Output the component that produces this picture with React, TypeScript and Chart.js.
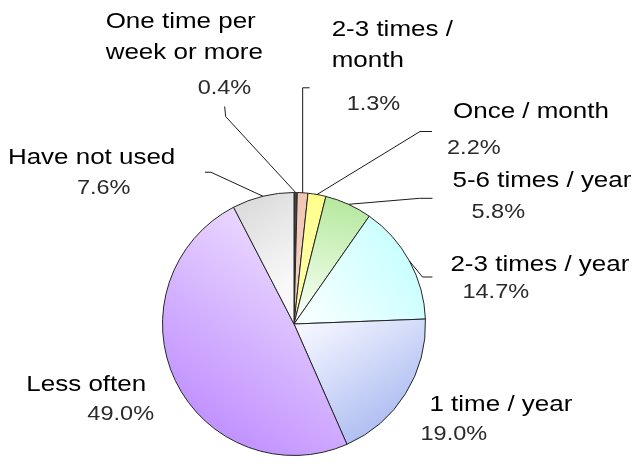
import React, { useEffect, useRef } from "react";
import { Chart, registerables } from "chart.js";

Chart.register(...registerables);

// ---- data ----
const categories = [
  "One time per week or more",
  "2-3 times / month",
  "Once / month",
  "5-6 times / year",
  "2-3 times / year",
  "1 time / year",
  "Less often",
  "Have not used",
];
const labelLines = [
  ["One time per", "week or more"],
  ["2-3 times /", "month"],
  ["Once / month"],
  ["5-6 times / year"],
  ["2-3 times / year"],
  ["1 time / year"],
  ["Less often"],
  ["Have not used"],
];
const shares = [0.4, 1.3, 2.2, 5.8, 14.7, 19.0, 49.0, 7.6];
const percentLabels = shares.map((v) => v.toFixed(1) + "%");

// ---- layout / style (relative to each slice's outer mid-point) ----
const catOffsets = [[-190, -165], [29, -157], [136, -77], [104, -17], [41, 10], [24, 17], [-149, 10], [-255, -32]];
const pctOffsets = [[-98, -99], [44, -83], [130, -41], [123, 14], [53, 37], [15, 46], [-88, 39], [-186, -2]];
const leaderPaths = [
  [[-70, -76], [-71, -86]],
  [[0, -105], [7, -105]],
  [[103, -63], [115, -63]],
  [[71, -6], [84, -6]],
  [[13, 16], [23, 16]],
  [],
  [],
  [[-52, -24], [-58, -24]],
];
// gradient: [x0,y0,x1,y1] in radius units from centre, colour0, colour1
const sliceFills: [number[], string, string][] = [
  [[0, -1, 0, 0], "#444444", "#444444"],
  [[0, -1, 0, 0], "#f2c6b4", "#f6d4c6"],
  [[0, -1, 0, 0], "#ffff8c", "#ffffb0"],
  [[0.2, -1, 0, -0.1], "#b4e89c", "#f6fff2"],
  [[1, -0.6, 0.1, 0], "#c2ffff", "#f8ffff"],
  [[0.05, 0.05, 0.65, 0.95], "#f4f6ff", "#a6b6f0"],
  [[0.3, -0.9, -0.8, 0.6], "#f6ecff", "#c294ff"],
  [[-0.4, -1, 0.05, -0.4], "#d8d8d8", "#f8f8f8"],
];

const CAT_FONT = '22px "Liberation Sans", Arial, sans-serif';
const PCT_FONT = '21px "Liberation Sans", Arial, sans-serif';
const CAT_SCALE = 1.18;
const PCT_SCALE = 1.12;
const LINE_GAP = 31;

const labelPlugin = {
  id: "sliceLabels",
  afterDatasetsDraw(chart: any) {
    const ctx = chart.ctx as CanvasRenderingContext2D;
    const meta = chart.getDatasetMeta(0);
    meta.data.forEach((arc: any, i: number) => {
      const { x, y, startAngle, endAngle, outerRadius } = arc.getProps(
        ["x", "y", "startAngle", "endAngle", "outerRadius"],
        true
      );
      const mid = (startAngle + endAngle) / 2;
      const ex = x + outerRadius * Math.cos(mid);
      const ey = y + outerRadius * Math.sin(mid);

      const path = leaderPaths[i];
      if (path.length) {
        ctx.save();
        ctx.strokeStyle = "#1a1a1a";
        ctx.lineWidth = 1;
        ctx.beginPath();
        ctx.moveTo(ex, ey);
        path.forEach(([dx, dy]) => ctx.lineTo(ex + dx, ey + dy));
        ctx.stroke();
        ctx.restore();
      }

      ctx.save();
      ctx.fillStyle = "#000";
      ctx.font = CAT_FONT;
      ctx.textAlign = "left";
      ctx.textBaseline = "alphabetic";
      labelLines[i].forEach((line, k) => {
        ctx.save();
        ctx.translate(ex + catOffsets[i][0], ey + catOffsets[i][1] + k * LINE_GAP);
        ctx.scale(CAT_SCALE, 1);
        ctx.fillText(line, 0, 0);
        ctx.restore();
      });
      ctx.fillStyle = "#2a2a2a";
      ctx.font = PCT_FONT;
      ctx.translate(ex + pctOffsets[i][0], ey + pctOffsets[i][1]);
      ctx.scale(PCT_SCALE, 1);
      ctx.fillText(percentLabels[i], 0, 0);
      ctx.restore();
    });
  },
};

export default function App() {
  const canvasRef = useRef<HTMLCanvasElement | null>(null);

  useEffect(() => {
    if (!canvasRef.current) return;
    const chart = new Chart(canvasRef.current, {
      type: "pie",
      data: {
        labels: categories,
        datasets: [
          {
            data: shares,
            backgroundColor: (c: any) => {
              const i = c.dataIndex;
              const fill = sliceFills[i];
              const ch = c.chart;
              const area = ch.chartArea;
              if (!area) return fill[1];
              const cx = (area.left + area.right) / 2;
              const cy = (area.top + area.bottom) / 2;
              const r = Math.min(area.right - area.left, area.bottom - area.top) / 2;
              const [x0, y0, x1, y1] = fill[0];
              const g = ch.ctx.createLinearGradient(cx + x0 * r, cy + y0 * r, cx + x1 * r, cy + y1 * r);
              g.addColorStop(0, fill[1]);
              g.addColorStop(1, fill[2]);
              return g;
            },
            borderColor: "#262626",
            borderWidth: 1,
            borderAlign: "center",
          },
        ],
      },
      options: {
        responsive: false,
        animation: false,
        devicePixelRatio: 1,
        layout: { padding: { left: 162, right: 212, top: 192, bottom: 8 } },
        plugins: {
          legend: { display: false },
          tooltip: { enabled: false },
        },
      },
      plugins: [labelPlugin],
    });
    return () => chart.destroy();
  }, []);

  return (
    <div style={{ position: "fixed", left: 0, top: 0, width: 638, height: 464, background: "#fff" }}>
      <canvas ref={canvasRef} width={638} height={464} style={{ width: 638, height: 464 }} />
    </div>
  );
}
